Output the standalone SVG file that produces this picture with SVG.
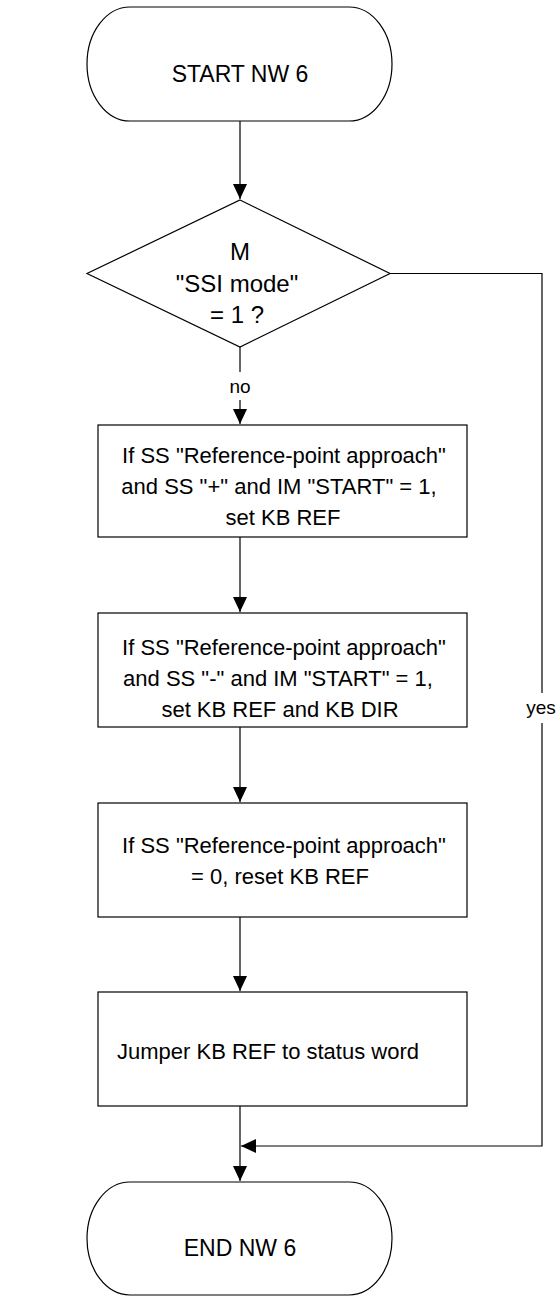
<svg xmlns="http://www.w3.org/2000/svg" width="559" height="1296" viewBox="0 0 559 1296">
<style>
.shape{fill:#fff;stroke:#000;stroke-width:1.2}
.t{font-family:"Liberation Sans",Arial,sans-serif;font-size:22px;fill:#000;text-anchor:middle}
.term{font-size:23px}
.dec{font-size:24px}
.lbl{font-family:"Liberation Sans",Arial,sans-serif;font-size:19px;fill:#000;text-anchor:middle}
.c{fill:none;stroke:#000;stroke-width:1.2}
</style>
<defs>
<marker id="ah" markerUnits="userSpaceOnUse" markerWidth="16" markerHeight="16" viewBox="0 0 16 16" refX="15" refY="8" orient="auto">
<path d="M0,1 L15,8 L0,15 Z" fill="#000"/>
</marker>
</defs>
<rect width="559" height="1296" fill="#fff"/>
<g id="connectors">
<path class="c" d="M240,121 V199" marker-end="url(#ah)"/>
<path class="c" d="M240,347 V372"/>
<path class="c" d="M240,400 V424" marker-end="url(#ah)"/>
<path class="c" d="M240,537 V612" marker-end="url(#ah)"/>
<path class="c" d="M240,727 V802" marker-end="url(#ah)"/>
<path class="c" d="M240,917 V991" marker-end="url(#ah)"/>
<path class="c" d="M240,1106 V1181" marker-end="url(#ah)"/>
<path class="c" d="M390,273.5 H542 V693"/>
<path class="c" d="M542,723 V1146 H241" marker-end="url(#ah)"/>
<text class="lbl" x="240" y="393">no</text>
<text class="lbl" x="541" y="714">yes</text>
</g>
<g id="start">
<path class="shape" d="M130,7 H349 A43,57 0 0 1 349,121 H130 A43,57 0 0 1 130,7 Z"/>
<text class="t term" x="240" y="82">START NW 6</text>
</g>
<g id="decision">
<path class="shape" d="M240,200 L390,273.5 L240,347 L87,273.5 Z"/>
<text class="t dec" x="240" y="260">M</text>
<text class="t dec" x="237" y="292">"SSI mode"</text>
<text class="t dec" x="237" y="323">= 1 ?</text>
</g>
<g id="box1">
<rect class="shape" x="98" y="425" width="369" height="112"/>
<text class="t" x="284" y="463">If SS "Reference-point approach"</text>
<text class="t" x="279" y="494">and SS "+" and IM "START" = 1,</text>
<text class="t" x="283" y="525">set KB REF</text>
</g>
<g id="box2">
<rect class="shape" x="98" y="613" width="369" height="114"/>
<text class="t" x="284" y="655">If SS "Reference-point approach"</text>
<text class="t" x="278" y="686">and SS "-" and IM "START" = 1,</text>
<text class="t" x="280" y="717">set KB REF and KB DIR</text>
</g>
<g id="box3">
<rect class="shape" x="98" y="803" width="369" height="114"/>
<text class="t" x="284" y="853">If SS "Reference-point approach"</text>
<text class="t" x="280" y="884">= 0, reset KB REF</text>
</g>
<g id="box4">
<rect class="shape" x="98" y="992" width="369" height="114"/>
<text class="t" x="268" y="1059">Jumper KB REF to status word</text>
</g>
<g id="end">
<path class="shape" d="M130,1182 H349 A43,56.5 0 0 1 349,1295 H130 A43,56.5 0 0 1 130,1182 Z"/>
<text class="t term" x="240" y="1256">END NW 6</text>
</g>
</svg>
